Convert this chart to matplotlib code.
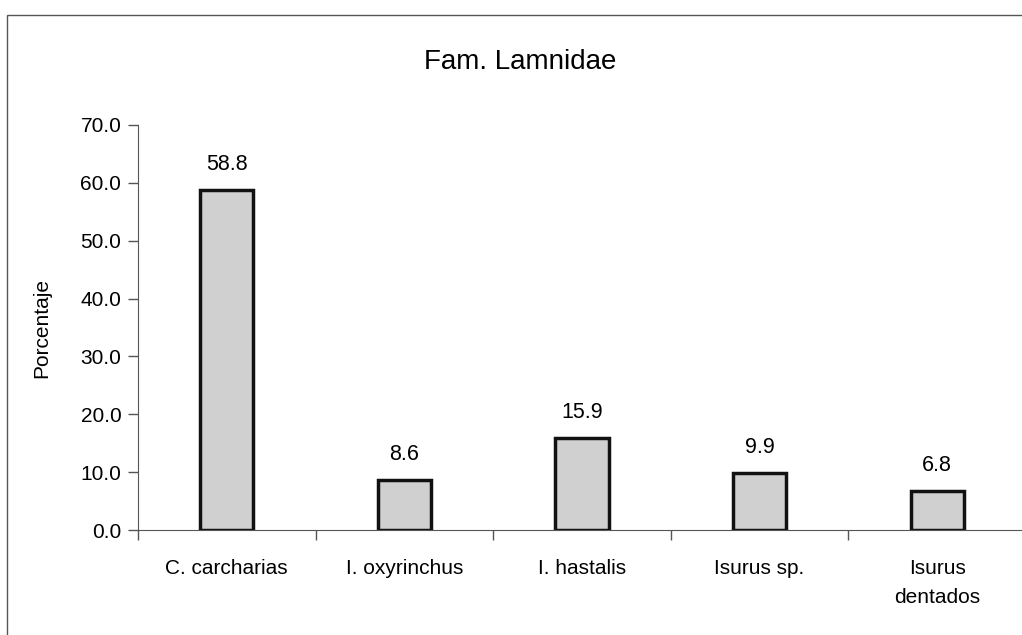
import numpy as np
import matplotlib
matplotlib.use("Agg")
import matplotlib.pyplot as plt
from matplotlib.patches import Rectangle

plt.rcParams['font.family'] = ['Liberation Sans', 'DejaVu Sans']

species = ["C. carcharias", "I. oxyrinchus", "I. hastalis", "Isurus sp.", "Isurus\ndentados"]
percent = [58.8, 8.6, 15.9, 9.9, 6.8]
yticks = [0, 10, 20, 30, 40, 50, 60, 70]

W, H = 1022, 635
fig = plt.figure(figsize=(W / 100, H / 100), dpi=100)

# outer border of the chart area
fig.patches.append(Rectangle((7 / W, -0.01), 1.1, 1 - 15 / H + 0.01, transform=fig.transFigure,
                             fill=False, edgecolor="#555555", linewidth=1.0))

ax = fig.add_axes([138 / W, (H - 530) / H, (1026 - 138) / W, 405 / H])
x = np.arange(len(species))
ax.bar(x, percent, width=0.3, color="#d0d0d0", edgecolor="#111111", linewidth=2.5)

for xi, v in zip(x, percent):
    ax.text(xi, v + 2.6, f"{v:.1f}", ha="center", va="bottom", fontsize=15.5)

ax.set_xlim(-0.5, len(species) - 0.5)
ax.set_ylim(0, 70)
ax.set_yticks(yticks)
ax.set_yticklabels([f"{t:.1f}" for t in yticks], fontsize=15)

# category labels centred under bars, ticks on category boundaries
ax.set_xticks(x)
ax.set_xticklabels(species, fontsize=15, linespacing=1.65, va="top")
ax.tick_params(axis="x", which="major", length=0, pad=21)
ax.set_xticks(np.arange(-0.5, len(species), 1.0), minor=True)
ax.tick_params(axis="x", which="minor", length=7, width=1, color="#555555", direction="out")
ax.tick_params(axis="y", length=7, width=1, color="#555555", pad=5)

for s in ["top", "right"]:
    ax.spines[s].set_visible(False)
ax.spines["left"].set_color("#555555")
ax.spines["bottom"].set_color("#555555")

ax.set_ylabel("Porcentaje", fontsize=15, labelpad=21)
fig.text(520 / W, 1 - 62 / H, "Fam. Lamnidae", ha="center", va="center", fontsize=20)

fig.savefig("out.png", dpi=100)
